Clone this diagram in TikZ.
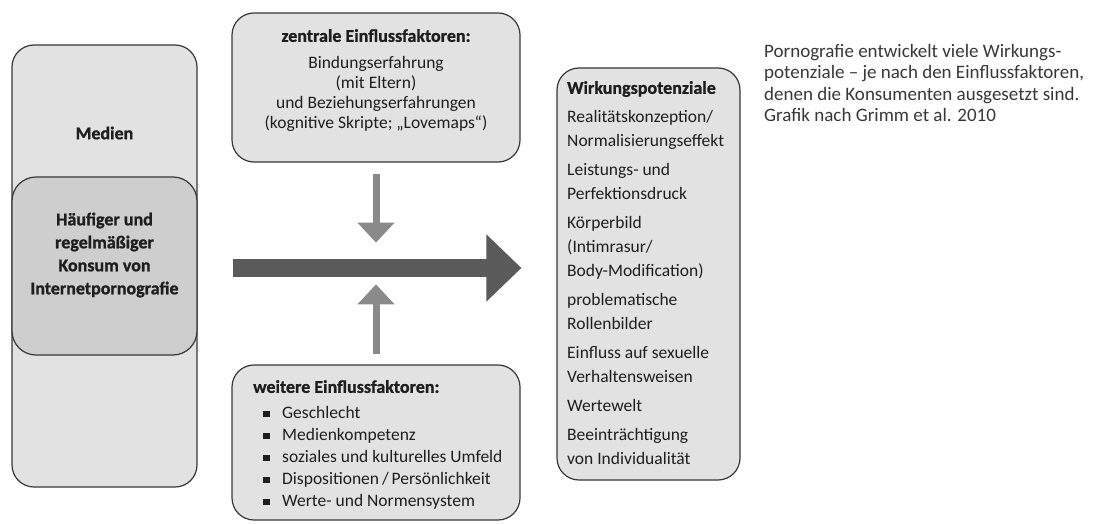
\documentclass[tikz,border=0pt]{standalone}
\usepackage{fontspec}
\setmainfont{Carlito}
\newfontfamily\schwer[FakeBold=1]{Carlito Bold}
\usepackage{tikz}
\usetikzlibrary{arrows.meta,positioning}
\definecolor{boxgrau}{RGB}{226,226,226}
\definecolor{konsumgrau}{RGB}{206,206,206}
\definecolor{randgrau}{RGB}{55,55,55}
\definecolor{pfeilgrau}{RGB}{138,138,138}
\definecolor{dunkelgrau}{RGB}{90,90,90}
\definecolor{textgrau}{RGB}{30,30,30}
\tikzset{
  kasten/.style={draw=randgrau,fill=boxgrau,line width=1.2pt,rounded corners=22pt,inner sep=0pt},
  schrift/.style={font=\fontsize{17.5}{#1}\selectfont,text=textgrau,inner sep=0pt},
  schrift/.default=20,
  fett/.style={font=\fontsize{18}{23}\selectfont\schwer,text=textgrau,inner sep=0pt,align=center},
  pfeil/.style={draw=pfeilgrau,line width=7pt,-{Triangle[length=20pt,width=36pt]}},
  dickpfeil/.style={draw=dunkelgrau,line width=18pt,-{Triangle[length=35pt,width=65pt]}}
}
\newcommand{\punkt}{\makebox[19pt][l]{\raisebox{1.5pt}{\rule{6.5pt}{6.5pt}}}}
\newcommand{\titel}[1]{{\fontsize{18}{20}\selectfont\schwer #1}}

\begin{document}
\begin{tikzpicture}[x=1pt,y=-1pt]
  \useasboundingbox (0,0) rectangle (1110,524);

  % Medien und Konsum
  \node[kasten,minimum width=185pt,minimum height=442pt] (medien) at (104.5,266) {};
  \node[fett] (medientitel) at (104.5,133) {Medien};
  \node[kasten,fill=konsumgrau,minimum width=185pt,minimum height=178pt,rounded corners=24pt] (konsum) at (104.5,266) {};
  \node[fett] (konsumtext) at (104.5,255) {Häufiger und\\regelmäßiger\\Konsum von\\Internetpornografie};

  % Einflussfaktoren
  \node[kasten,minimum width=288pt,minimum height=149pt] (zentral) at (376,87.5) {};
  \node[schrift,align=center,anchor=north] (zentraltext) at (376,29)
    {\titel{zentrale Einflussfaktoren:}\\[7pt]
     Bindungserfahrung\\(mit Eltern)\\und Beziehungserfahrungen\\(kognitive Skripte; „Lovemaps“)};
  \node[kasten,minimum width=288pt,minimum height=155pt] (weitere) at (376,442.5) {};
  \node[schrift=22,align=left,anchor=north west] (weiteretext) at (253,380)
    {\titel{weitere Einflussfaktoren:}\\[4pt]
     \hspace{10pt}\punkt Geschlecht\\
     \hspace{10pt}\punkt Medienkompetenz\\
     \hspace{10pt}\punkt soziales und kulturelles Umfeld\\
     \hspace{10pt}\punkt Dispositionen\,/\,Persönlichkeit\\
     \hspace{10pt}\punkt Werte- und Normensystem};

  % Wirkungspotenziale
  \node[kasten,minimum width=183pt,minimum height=412pt] (wirkung) at (648.5,274) {};
  \node[schrift=24,align=left,anchor=north west] (wirkungtext) at (567,81)
    {\titel{Wirkungspotenziale}\\[5pt]
     Realitätskonzeption/\\Normalisierungseffekt\\[5pt]
     Leistungs- und\\Perfektionsdruck\\[5pt]
     Körperbild\\(Intimrasur/\\Body-Modification)\\[5pt]
     problematische\\Rollenbilder\\[5pt]
     Einfluss auf sexuelle\\Verhaltensweisen\\[5pt]
     Wertewelt\\[5pt]
     Beeinträchtigung\\von Individualität};

  \node[schrift,font=\fontsize{19}{21.5}\selectfont,align=left,anchor=north west,text=randgrau] (notiz) at (764,44)
    {Pornografie entwickelt viele Wirkungs-\\potenziale -- je nach den Einflussfaktoren,\\denen die Konsumenten ausgesetzt sind.\\Grafik nach Grimm et al. 2010};

  % Pfeile
  \draw[dickpfeil] ([xshift=35pt,yshift=-2pt]konsum.east) -- ([xshift=-35pt,yshift=-2pt]konsum.east -| wirkung.west);
  \draw[pfeil] ([yshift=-11pt]zentral.south) -- ([yshift=-80pt]zentral.south);
  \draw[pfeil] ([yshift=10pt]weitere.north) -- ([yshift=80pt]weitere.north);
\end{tikzpicture}
\end{document}
